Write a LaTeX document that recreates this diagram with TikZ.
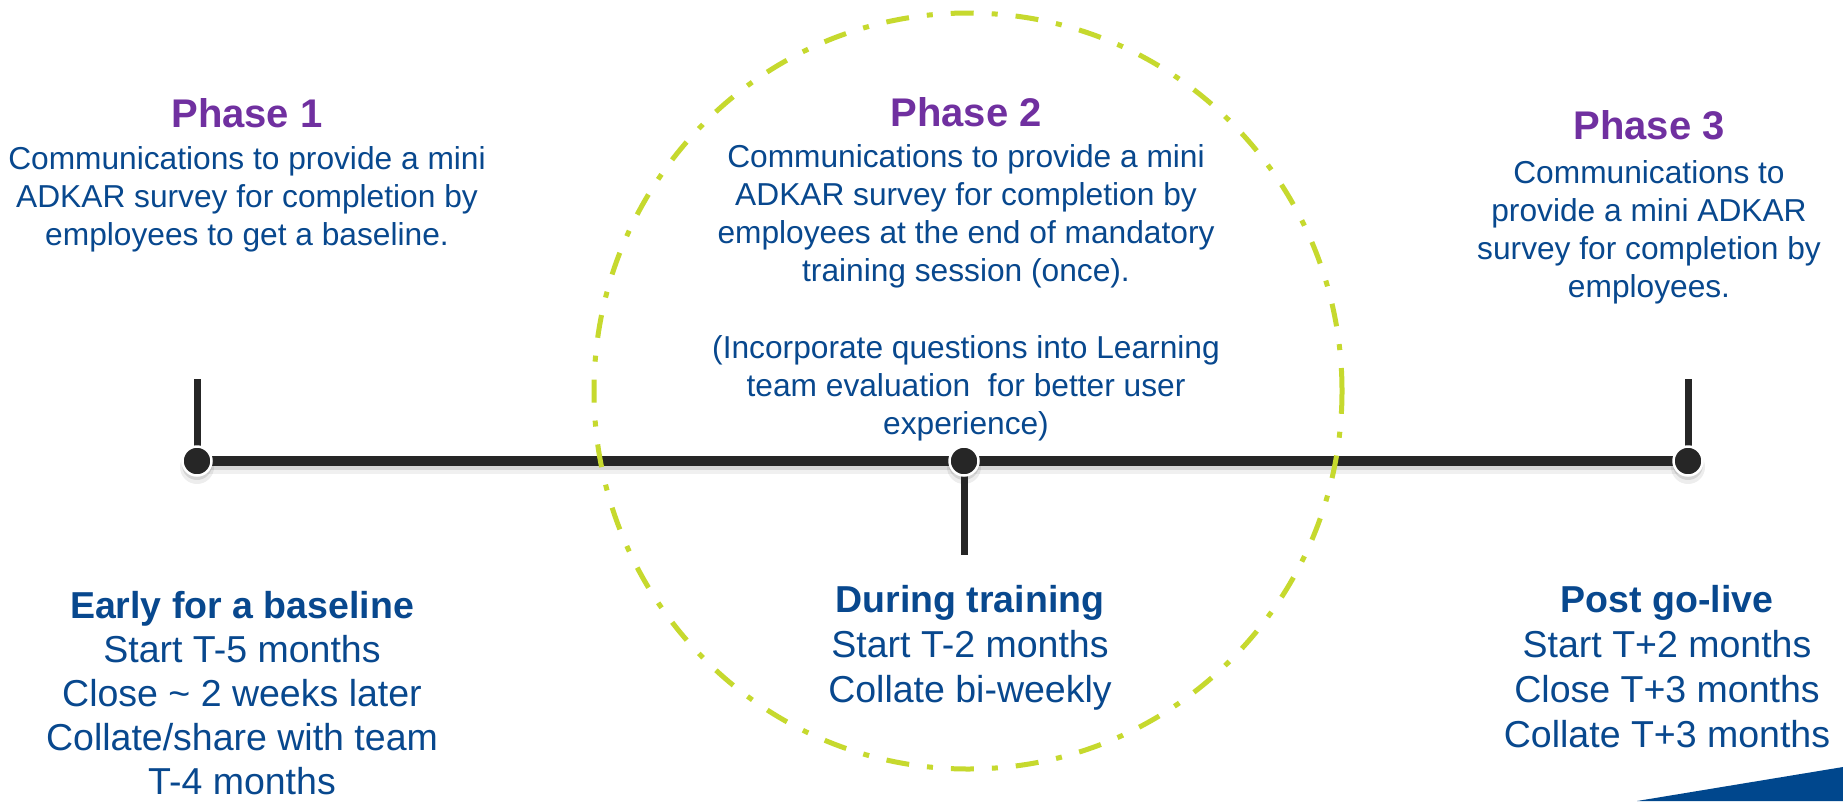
\documentclass[tikz,border=0pt]{standalone}
\usepackage{fontspec}
\setmainfont{Liberation Sans}

\definecolor{phasepurple}{RGB}{112,48,160}
\definecolor{textblue}{RGB}{8,72,142}
\definecolor{limegreen}{RGB}{198,217,46}
\definecolor{barblack}{RGB}{38,38,38}
\definecolor{cornerblue}{RGB}{0,71,141}

% zero-width strut fixing the height of the first line of a block
\newcommand{\firststrut}[1]{\rule{0pt}{#1pt}}

\begin{document}
\begin{tikzpicture}[x=1pt,y=-1pt,
  every node/.style={inner sep=0pt, outer sep=0pt},
  titletext/.style={text=phasepurple, font=\bfseries\fontsize{40}{48}\selectfont, anchor=base},
  bodytext/.style={text=textblue, font=\fontsize{31.7}{38}\selectfont, align=center, anchor=north},
  whentext/.style={text=textblue, font=\fontsize{37.5}{45}\selectfont, align=center, anchor=north},
  timeline/.style={draw=barblack, line width=9.5pt},
  stem/.style={draw=barblack, line width=7pt},
  timedot/.style={circle, fill=barblack, draw=white, line width=2.5pt, minimum size=29pt},
  dropshadow/.style={draw=black, line width=10pt},
  focusring/.style={draw=limegreen, line width=5pt, dash pattern=on 23pt off 18pt on 6pt off 18pt},
]
\useasboundingbox (0,0) rectangle (1843,801);
\fill[white] (0,0) rectangle (1843,801);

% positions on the time axis
\coordinate (p1) at (197,461);
\coordinate (p2) at (964,461);
\coordinate (p3) at (1688,461);
\coordinate (t1) at (197,379);
\coordinate (t2) at (964,555);
\coordinate (t3) at (1688,379);

% soft shadow under the axis
\draw[dropshadow, opacity=0.06, line width=14pt] ([yshift=-6pt]p1) -- ([yshift=-6pt]p3);
\draw[dropshadow, opacity=0.10] ([yshift=-4pt]p1) -- ([yshift=-4pt]p3);
\foreach \p in {p1,p2,p3}{
  \fill[black, opacity=0.07] ([yshift=-6pt]\p) circle (17pt);
  \fill[black, opacity=0.10] ([yshift=-4pt]\p) circle (15pt);
}

% axis and stems
\draw[timeline] (p1) -- (p3);
\draw[stem] (p1) -- (t1);
\draw[stem] (p2) -- (t2);
\draw[stem] (p3) -- (t3);

% milestones
\node[timedot] (d1) at (p1) {};
\node[timedot] (d2) at (p2) {};
\node[timedot] (d3) at (p3) {};

% highlight around the training phase
\draw[focusring] (968,391) ellipse [x radius=374pt, y radius=378pt];

% phase headings and descriptions
\node[titletext] (ph1) at (247,127) {Phase 1};
\node[bodytext] (ph1txt) at (247,139) {\firststrut{30}Communications to provide a mini\\ADKAR survey for completion by\\employees to get a baseline.};

\node[titletext] (ph2) at (966,126) {Phase 2};
\node[bodytext] (ph2txt) at (966,137) {\firststrut{30}Communications to provide a mini\\ADKAR survey for completion by\\employees at the end of mandatory\\training session (once).};
\node[bodytext] (ph2note) at (966,328) {\firststrut{30}(Incorporate questions into Learning\\team evaluation\ \ for better user\\experience)};

\node[titletext] (ph3) at (1649,139) {Phase 3};
\node[bodytext] (ph3txt) at (1649,153) {\firststrut{30}Communications to\\provide a mini ADKAR\\survey for completion by\\employees.};

% timing below the axis
\node[whentext, font=\fontsize{37.5}{44}\selectfont] (w1) at (242,584) {\firststrut{34}\textbf{Early for a baseline}\\Start T-5 months\\Close \textasciitilde{} 2 weeks later\\Collate/share with team\\T-4 months};
\node[whentext] (w2) at (970,578) {\firststrut{34}\textbf{During training}\\Start T-2 months\\Collate bi-weekly};
\node[whentext] (w3) at (1667,578) {\firststrut{34}\textbf{Post go-live}\\Start T+2 months\\Close T+3 months\\Collate T+3 months};

% corner accent
\fill[cornerblue] (1637,801) -- (1843,767) -- (1843,801) -- cycle;
\end{tikzpicture}
\end{document}
